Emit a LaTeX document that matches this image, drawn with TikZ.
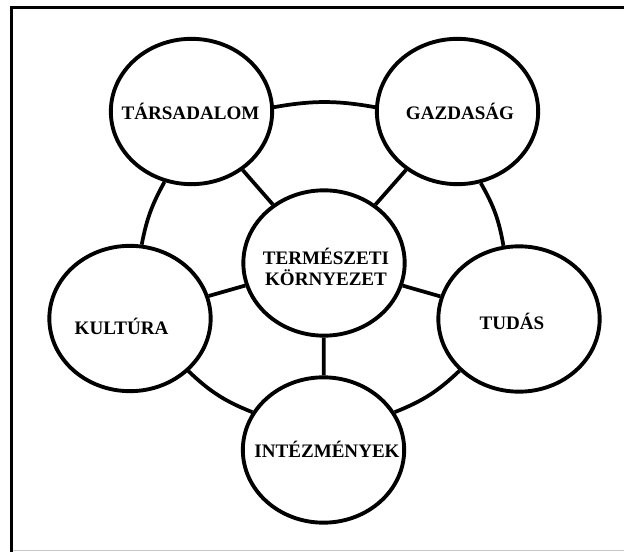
\documentclass[tikz,border=0pt]{standalone}
\usepackage{fontspec}
\setmainfont{Liberation Serif}
\usetikzlibrary{shapes.geometric}
\tikzset{
  bubble/.style={ellipse,draw,line width=2.9pt,minimum width=121pt,minimum height=109pt,inner sep=0pt},
  tag/.style={font=\bfseries\fontsize{14.3}{15.75}\selectfont,inner sep=0pt,text height=9.5pt,text depth=0pt},
  link/.style={line width=2.8pt}
}
\begin{document}
\begin{tikzpicture}[x=0.75pt,y=-0.75pt]
  \useasboundingbox (0,0) rectangle (624,552);

  % frame (cut off at right and bottom)
  \draw[line width=2.5pt] (11.5,560) -- (11.5,7.5) -- (630,7.5);
  \draw[gray!45,line width=1pt] (13,550.8) -- (630,550.8);

  % bubbles
  \node[bubble] (ctr)  at (324,263)     {};
  \node[bubble] (tars) at (191.5,111.5) {};
  \node[bubble] (gaz)  at (457.5,111.5) {};
  \node[bubble] (tud)  at (519,319)     {};
  \node[bubble] (inst) at (323.5,450)   {};
  \node[bubble] (kult) at (130,318.5)   {};

  % texts
  \node[tag] (tarsT) at (190.5,112.7) {TÁRSADALOM};
  \node[tag] (gazT)  at (460,113)     {GAZDASÁG};
  \node[tag] (tudT)  at (512,323)     {TUDÁS};
  \node[tag] (instT) at (327,451)     {INTÉZMÉNYEK};
  \node[tag] (kultT) at (121.5,328)   {KULTÚRA};
  \node[tag,align=center,text height=,text depth=] (ctrT) at (326,266.5) {TERMÉSZETI\\KÖRNYEZET};

  % spokes
  \foreach \b in {tars,gaz,tud,inst,kult}
    \draw[link] (ctr) -- (\b);

  % outer ring
  \draw[link] (tars.3)   to[bend left=10] (gaz.177);
  \draw[link] (gaz.-72)  to[bend left=10] (tud.102);
  \draw[link] (tud.221)  to[bend left=11] (inst.28);
  \draw[link] (inst.152) to[bend left=11] (kult.-42);
  \draw[link] (kult.81)  to[bend left=9]  (tars.249);
\end{tikzpicture}
\end{document}
